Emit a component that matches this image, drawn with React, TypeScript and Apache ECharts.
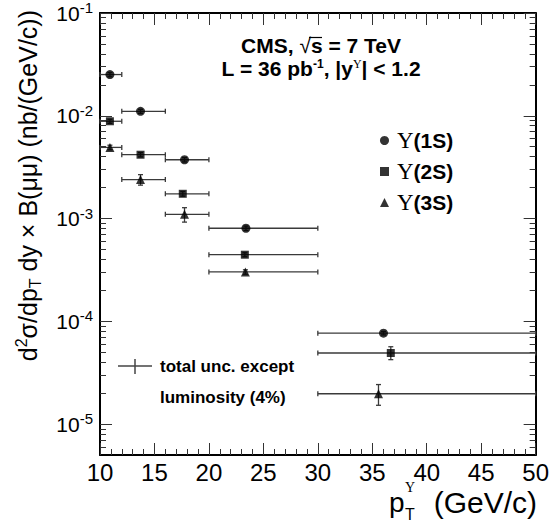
import React, { useEffect, useRef } from "react";
import * as echarts from "echarts";

// ---- data ----
const binLow = [10, 12, 16, 20, 30];
const binHigh = [12, 16, 20, 30, 50];

const x1S = [10.91, 13.72, 17.76, 23.4, 36.03];
const y1S = [0.02518, 0.01104, 0.003733, 0.000804, 7.67e-5];
const up1S = [0.0012, 0.0005, 0.00018, 0.00004, 3e-6];
const dn1S = [0.0012, 0.0005, 0.00018, 0.00004, 3e-6];

const x2S = [10.91, 13.72, 17.6, 23.3, 36.7];
const y2S = [0.00884, 0.004178, 0.001741, 0.0004446, 4.915e-5];
const up2S = [0.0004, 0.0002, 0.00009, 0.00002, 7.4e-6];
const dn2S = [0.0004, 0.0002, 0.00009, 0.00002, 6.8e-6];

const x3S = [10.91, 13.72, 17.76, 23.35, 35.57];
const y3S = [0.004922, 0.002393, 0.001099, 0.000302, 1.973e-5];
const up3S = [0.00025, 0.00028, 0.000176, 0.000015, 4.5e-6];
const dn3S = [0.00025, 0.00028, 0.000176, 0.000015, 4.5e-6];

const seriesNames = ["Υ(1S)", "Υ(2S)", "Υ(3S)"];
const xTickLabels = [10, 15, 20, 25, 30, 35, 40, 45, 50];
const yDecades = [-5, -4, -3, -2, -1];

const LOGMIN = Math.log10(5e-6);
const LOGMAX = -1;

const SANS = "'Liberation Sans', Arial, Helvetica, sans-serif";
const SERIF = "'Liberation Serif', 'Times New Roman', serif";

function minorLogTicks(): number[] {
  const out: number[] = [];
  for (let n = -6; n <= -2; n++) {
    for (let k = 2; k <= 9; k++) {
      const v = Math.log10(k * Math.pow(10, n));
      if (v > LOGMIN + 1e-6 && v < LOGMAX - 1e-6) out.push(v);
    }
  }
  return out;
}

function errData(xs: number[], ys: number[], up: number[], dn: number[]) {
  return xs.map((x, i) => [
    x,
    Math.log10(ys[i]),
    binLow[i],
    binHigh[i],
    Math.log10(ys[i] - dn[i]),
    Math.log10(ys[i] + up[i]),
  ]);
}

function pointData(xs: number[], ys: number[]) {
  return xs.map((x, i) => [x, Math.log10(ys[i])]);
}

const ERR_COLOR = "#3a3a3a";

function renderErr(params: any, api: any) {
  const x = api.value(0);
  const y = api.value(1);
  const pl = api.coord([api.value(2), y]);
  const ph = api.coord([api.value(3), y]);
  const pyl = api.coord([x, api.value(4)]);
  const pyh = api.coord([x, api.value(5)]);
  const st = { stroke: ERR_COLOR, lineWidth: 1.3 };
  const c = 2.5;
  return {
    type: "group",
    children: [
      { type: "line", shape: { x1: pl[0], y1: pl[1], x2: ph[0], y2: ph[1] }, style: st },
      { type: "line", shape: { x1: pl[0], y1: pl[1] - c, x2: pl[0], y2: pl[1] + c }, style: st },
      { type: "line", shape: { x1: ph[0], y1: ph[1] - c, x2: ph[0], y2: ph[1] + c }, style: st },
      { type: "line", shape: { x1: pyl[0], y1: pyl[1], x2: pyh[0], y2: pyh[1] }, style: st },
      { type: "line", shape: { x1: pyl[0] - c, y1: pyl[1], x2: pyl[0] + c, y2: pyl[1] }, style: st },
      { type: "line", shape: { x1: pyh[0] - c, y1: pyh[1], x2: pyh[0] + c, y2: pyh[1] }, style: st },
    ],
  };
}

export default function App() {
  const ref = useRef<HTMLDivElement>(null);
  useEffect(() => {
    if (!ref.current) return;
    const chart = echarts.init(ref.current, null, { renderer: "svg" });
    const minors = minorLogTicks();
    const frame = { show: true, lineStyle: { color: "#000", width: 2 } };
    const tickStyle = { color: "#333", width: 1 };

    const yBase = (extra: any) => ({
      type: "value",
      min: LOGMIN,
      max: LOGMAX,
      splitLine: { show: false },
      ...extra,
    });

    const option: any = {
      animation: false,
      backgroundColor: "#fff",
      grid: { left: 100, right: 14, top: 10, bottom: 70, containLabel: false },
      xAxis: [
        {
          type: "value",
          min: 10,
          max: 50,
          interval: 5,
          position: "bottom",
          axisLine: frame,
          axisTick: { inside: true, length: 12, lineStyle: tickStyle },
          minorTick: { show: true, splitNumber: 5, length: 6, lineStyle: tickStyle },
          splitLine: { show: false },
          axisLabel: {
            fontSize: 24,
            fontFamily: SANS,
            color: "#000",
            margin: 5,
            formatter: (v: number) => (xTickLabels.includes(v) ? String(v) : ""),
          },
        },
        {
          type: "value",
          min: 10,
          max: 50,
          interval: 5,
          position: "top",
          axisLine: frame,
          axisTick: { inside: true, length: 12, lineStyle: tickStyle },
          minorTick: { show: true, splitNumber: 5, length: 6, lineStyle: tickStyle },
          splitLine: { show: false },
          axisLabel: { show: false },
        },
      ],
      yAxis: [
        yBase({
          position: "left",
          axisLine: frame,
          axisTick: { inside: true, length: 12, lineStyle: tickStyle, customValues: yDecades },
          axisLabel: {
            customValues: yDecades,
            margin: 7,
            color: "#000",
            formatter: (v: number) => `{b|10}{s|${Math.round(v)}}`,
            rich: {
              b: { fontSize: 21, fontFamily: SANS, color: "#000", lineHeight: 26 },
              s: { fontSize: 15, fontFamily: SANS, color: "#000", lineHeight: 15, verticalAlign: "top" },
            },
          },
        }),
        yBase({
          position: "left",
          axisLine: { show: false },
          axisTick: { inside: true, length: 6, lineStyle: tickStyle, customValues: minors },
          axisLabel: { show: false },
        }),
        yBase({
          position: "right",
          axisLine: frame,
          axisTick: { inside: true, length: 12, lineStyle: tickStyle, customValues: yDecades },
          axisLabel: { show: false },
        }),
        yBase({
          position: "right",
          axisLine: { show: false },
          axisTick: { inside: true, length: 6, lineStyle: tickStyle, customValues: minors },
          axisLabel: { show: false },
        }),
      ],
      legend: {
        data: seriesNames,
        orient: "vertical",
        left: 375,
        top: 124,
        itemWidth: 9,
        itemHeight: 9,
        itemGap: 8,
        selectedMode: false,
        formatter: (name: string) => `{u|Υ}{b|${name.slice(1)}}`,
        textStyle: {
          rich: {
            u: { fontSize: 23, fontFamily: SERIF, color: "#000", padding: [0, 0, 0, 3], lineHeight: 23 },
            b: { fontSize: 21, fontFamily: SANS, fontWeight: "bold", color: "#000", lineHeight: 23 },
          },
        },
      },
      series: [
        { type: "custom", renderItem: renderErr, data: errData(x1S, y1S, up1S, dn1S), encode: { x: 0, y: 1 }, z: 2 },
        { type: "custom", renderItem: renderErr, data: errData(x2S, y2S, up2S, dn2S), encode: { x: 0, y: 1 }, z: 2 },
        { type: "custom", renderItem: renderErr, data: errData(x3S, y3S, up3S, dn3S), encode: { x: 0, y: 1 }, z: 2 },
        { name: seriesNames[0], type: "scatter", symbol: "circle", symbolSize: 9, itemStyle: { color: "#000" }, data: pointData(x1S, y1S), z: 5 },
        { name: seriesNames[1], type: "scatter", symbol: "rect", symbolSize: 8, itemStyle: { color: "#000" }, data: pointData(x2S, y2S), z: 5 },
        { name: seriesNames[2], type: "scatter", symbol: "triangle", symbolSize: 9, itemStyle: { color: "#000" }, data: pointData(x3S, y3S), z: 5 },
      ],
      graphic: [
        // y axis title
        {
          type: "text",
          x: 28,
          y: 10,
          rotation: Math.PI / 2,
          style: {
            text: "{n|d}{sup|2}{n|σ/dp}{sub|T}{n| dy × B(μμ) (nb/(GeV/c))}",
            align: "right",
            verticalAlign: "middle",
            rich: {
              n: { fontSize: 25, fontFamily: SANS, fill: "#000", lineHeight: 30 },
              sup: { fontSize: 16, fontFamily: SANS, fill: "#000", lineHeight: 16, verticalAlign: "top" },
              sub: { fontSize: 16, fontFamily: SANS, fill: "#000", lineHeight: 16, verticalAlign: "bottom" },
            },
          },
        },
        // x axis title
        { type: "text", x: 389, y: 502, style: { text: "p", fontSize: 28, fontFamily: SANS, fill: "#000", align: "left", verticalAlign: "middle" } },
        { type: "text", x: 405, y: 487, style: { text: "Υ", fontSize: 14, fontFamily: SERIF, fill: "#000", align: "left", verticalAlign: "middle" } },
        { type: "text", x: 405, y: 514, style: { text: "T", fontSize: 16, fontFamily: SANS, fill: "#000", align: "left", verticalAlign: "middle" } },
        { type: "text", x: 537, y: 502, style: { text: "(GeV/c)", fontSize: 30, fontFamily: SANS, fill: "#000", align: "right", verticalAlign: "middle" } },
        // top annotation
        {
          type: "text",
          x: 321,
          y: 45,
          style: {
            text: "{b|CMS, }{r|√}{b|s = 7 TeV}",
            align: "center",
            verticalAlign: "middle",
            rich: {
              b: { fontSize: 21, fontFamily: SANS, fontWeight: "bold", fill: "#000", lineHeight: 18 },
              r: { fontSize: 21, fontFamily: SANS, fill: "#000", lineHeight: 18 },
            },
          },
        },
        { type: "line", shape: { x1: 309, y1: 37.5, x2: 322, y2: 37.5 }, style: { stroke: "#000", lineWidth: 1.2 } },
        {
          type: "text",
          x: 321,
          y: 68,
          style: {
            text: "{b|L = 36 pb}{s|-1}{b|, |y}{u|Υ}{b|| < 1.2}",
            align: "center",
            verticalAlign: "middle",
            rich: {
              b: { fontSize: 21, fontFamily: SANS, fontWeight: "bold", fill: "#000", lineHeight: 20 },
              s: { fontSize: 12, fontFamily: SANS, fontWeight: "bold", fill: "#000", lineHeight: 8, verticalAlign: "top" },
              u: { fontSize: 12, fontFamily: SERIF, fill: "#000", lineHeight: 8, verticalAlign: "top" },
            },
          },
        },
        // lower-left legend
        { type: "line", shape: { x1: 118, y1: 366, x2: 152, y2: 366 }, style: { stroke: "#444", lineWidth: 1.5 } },
        { type: "line", shape: { x1: 135, y1: 359, x2: 135, y2: 374 }, style: { stroke: "#444", lineWidth: 1.5 } },
        { type: "text", x: 160, y: 366, style: { text: "total unc. except", fontSize: 17, fontFamily: SANS, fontWeight: "bold", fill: "#000", align: "left", verticalAlign: "middle" } },
        { type: "text", x: 160, y: 397, style: { text: "luminosity (4%)", fontSize: 17, fontFamily: SANS, fontWeight: "bold", fill: "#000", align: "left", verticalAlign: "middle" } },
      ],
    };
    chart.setOption(option);
    return () => chart.dispose();
  }, []);
  return (
    <div
      ref={ref}
      style={{ position: "fixed", left: 0, top: 0, width: 552, height: 525, background: "#fff" }}
    />
  );
}
